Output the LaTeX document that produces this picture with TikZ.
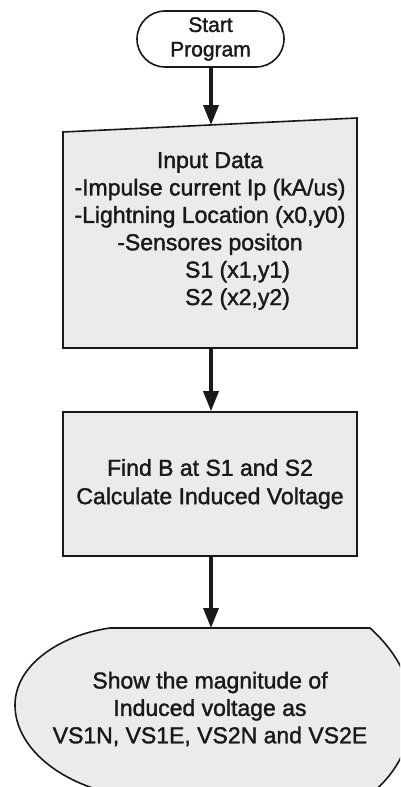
\documentclass[tikz,border=0pt]{standalone}
\usepackage{fontspec}
\setmainfont[FakeBold=1.5]{Liberation Sans}
\usetikzlibrary{arrows.meta}
\definecolor{boxfill}{RGB}{235,235,235}
\definecolor{inkc}{RGB}{25,25,25}
\begin{document}
\begin{tikzpicture}[x=1pt,y=-1pt,
  shapeline/.style={draw=inkc, line width=1.6pt},
  shapefill/.style={shapeline, fill=boxfill},
  arr/.style={draw=inkc, line width=3.5pt, -{Triangle[length=20pt,width=15pt]}},
  txt/.style={font=\fontsize{23}{27.4}\selectfont, align=center, inner sep=0pt, text=inkc}
]
\useasboundingbox (0,0) rectangle (400,787);
\fill[white] (0,0) rectangle (400,787);
\clip (0,0) rectangle (400,787);

% Start terminator
\node[shapeline, rounded corners=28pt, minimum width=147pt, minimum height=56pt,
      inner sep=0pt, align=center, text=inkc,
      font=\fontsize{21}{24.5}\selectfont] (start) at (210.5,39) {Start\\Program};

% Manual input box
\path[shapefill] (63,132) -- (357,118) -- (357,348) -- (63,348) -- cycle;
\coordinate (inTop) at (211,125);
\coordinate (inBot) at (211,348);
\node[txt] (inText) at (210,231) {Input Data\\-Impulse current Ip (kA/us)\\-Lightning Location (x0,y0)\\-Sensores positon\\\hspace*{55pt}S1 (x1,y1)\\\hspace*{55pt}S2 (x2,y2)};

% Process box
\node[shapefill, minimum width=294pt, minimum height=144pt, inner sep=0pt,
      txt, font=\fontsize{23}{28.4}\selectfont] (proc) at (210,484) {Find B at S1 and S2\\Calculate Induced Voltage};

% Display shape
\path[shapefill] (110,628) -- (370,628)
  .. controls (400,655) and (412,685) .. (412,710)
  .. controls (412,740) and (400,770) .. (372,793)
  -- (110,793)
  .. controls (55,780) and (15,745) .. (15,705)
  .. controls (15,665) and (60,635) .. (110,628) -- cycle;
\coordinate (dispTop) at (211,628);
\node[txt] (dispText) at (210,709) {Show the magnitude of\\Induced voltage as\\VS1N, VS1E, VS2N and VS2E};

% Connectors
\draw[arr] (start.south -| inTop) -- (inTop);
\draw[arr] (inBot) -- (inBot |- proc.north);
\draw[arr] (inBot |- proc.south) -- (dispTop);
\end{tikzpicture}
\end{document}
